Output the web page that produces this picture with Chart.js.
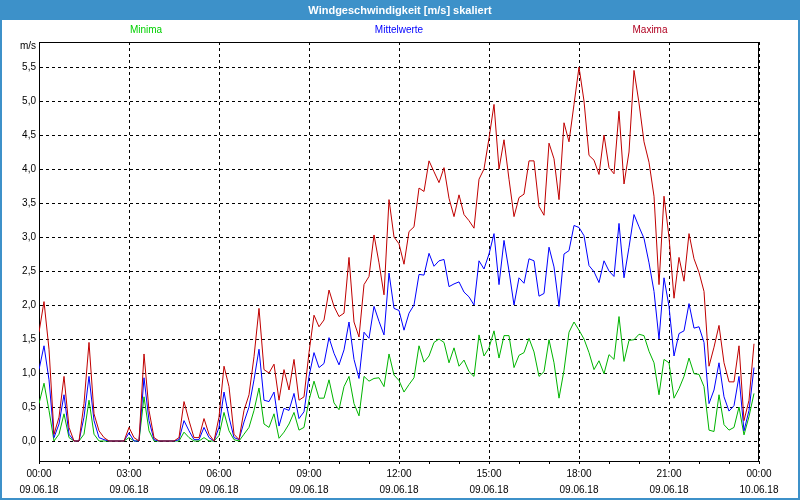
<!DOCTYPE html>
<html>
<head>
<title>Windgeschwindigkeit</title>
<script src="https://cdn.jsdelivr.net/npm/chart.js"></script>
<style>
body { margin: 0; background: #fff; }
</style>
</head>
<body>
<canvas id="chartDiv" width="800" height="500"></canvas>

<script>

var chartTitle = 'Windgeschwindigkeit [m/s] skaliert';
var yUnit = 'm/s';
var stepMinutes = 10;   // one value every 10 minutes, starting 00:00

var minima = [
  0.55, 0.85, 0.45, 0, 0.1, 0.4, 0.05, 0, 0, 0.1, 0.6, 0.1,
  0, 0, 0, 0, 0, 0, 0.05, 0, 0, 0.65, 0.15, 0,
  0, 0, 0, 0, 0, 0.13, 0.05, 0, 0, 0.05, 0, 0,
  0.08, 0.42, 0.15, 0.02, 0, 0.1, 0.2, 0.45, 0.78, 0.25, 0.2, 0.4,
  0.04, 0.13, 0.25, 0.42, 0.16, 0.2, 0.6, 0.88, 0.63, 0.63, 0.9, 0.56,
  0.46, 0.8, 0.95, 0.55, 0.37, 0.95, 0.88, 0.92, 0.93, 0.8, 1.28, 0.97,
  0.89, 0.72, 0.83, 0.93, 1.4, 1.16, 1.25, 1.45, 1.5, 1.45, 1.15, 1.37,
  1.1, 1.19, 1.02, 0.95, 1.56, 1.25, 1.37, 1.62, 1.22, 1.55, 1.55, 1.08,
  1.26, 1.3, 1.51, 1.31, 0.95, 1.02, 1.49, 1.15, 0.63, 1.04, 1.6, 1.75,
  1.63, 1.5, 1.3, 1.05, 1.18, 0.99, 1.27, 1.2, 1.83, 1.17, 1.48, 1.49,
  1.57, 1.55, 1.32, 1.15, 0.68, 1.2, 1.15, 0.63, 0.77, 0.95, 1.22, 0.99,
  0.98, 0.8, 0.16, 0.14, 0.68, 0.24, 0.16, 0.2, 0.5, 0.09, 0.36, 0.7
];

var mittelwerte = [
  1.05, 1.4, 0.9, 0.05, 0.25, 0.68, 0.1, 0, 0, 0.35, 0.95, 0.3,
  0.05, 0.02, 0, 0, 0, 0, 0.12, 0, 0, 0.93, 0.3, 0.02,
  0, 0, 0, 0, 0.02, 0.3, 0.15, 0.02, 0.02, 0.2, 0.05, 0,
  0.2, 0.72, 0.35, 0.05, 0.02, 0.28, 0.5, 0.9, 1.35, 0.6, 0.58, 0.72,
  0.22, 0.48, 0.45, 0.7, 0.33, 0.43, 0.95, 1.3, 1.08, 1.14, 1.52, 1.29,
  1.12, 1.34, 1.75, 1.2, 0.92, 1.6, 1.51, 1.98, 1.76, 1.56, 2.47, 1.95,
  1.92, 1.63, 1.88, 2.0, 2.45, 2.44, 2.76, 2.57, 2.65, 2.67, 2.27, 2.31,
  2.34, 2.19, 2.12, 2.0, 2.65, 2.53, 2.75, 3.05, 2.3, 2.95, 2.5, 2.0,
  2.4, 2.32, 2.68, 2.65, 2.13, 2.17, 2.85, 2.56, 1.98, 2.75, 2.8, 3.17,
  3.14, 3.02, 2.58, 2.49, 2.33, 2.65, 2.5, 2.42, 3.2, 2.4, 2.85, 3.33,
  3.15, 2.98, 2.62, 2.2, 1.5, 2.4, 1.98, 1.25, 1.58, 1.62, 2.02, 1.66,
  1.68, 1.45, 0.55, 0.75, 1.15, 0.65, 0.44, 0.52, 0.95, 0.15, 0.45, 1.08
];

var maxima = [
  1.6, 2.05, 1.35, 0.1, 0.35, 0.95, 0.2, 0, 0, 0.55, 1.45, 0.4,
  0.15, 0.05, 0, 0, 0, 0, 0.2, 0.05, 0, 1.28, 0.45, 0.05,
  0, 0, 0, 0, 0.05, 0.58, 0.3, 0.05, 0.05, 0.33, 0.1, 0,
  0.35, 1.1, 0.8, 0.1, 0.02, 0.45, 0.68, 1.24, 1.95, 1.05, 1.0, 1.13,
  0.6, 1.05, 0.75, 1.2, 0.6, 0.65, 1.3, 1.85, 1.68, 1.78, 2.22, 1.98,
  1.83, 1.88, 2.7, 1.75, 1.53, 2.3, 2.42, 3.03, 2.62, 2.15, 3.55, 3.0,
  2.9, 2.6, 3.08, 3.15, 3.72, 3.67, 4.12, 3.96, 3.8, 4.02, 3.57, 3.3,
  3.62, 3.33, 3.24, 3.13, 3.85, 4.0, 4.45, 4.95, 4.0, 4.43, 3.85, 3.3,
  3.58, 3.63, 4.12, 4.12, 3.45, 3.32, 4.38, 4.15, 3.55, 4.68, 4.4, 4.95,
  5.5, 5.0, 4.2, 4.13, 3.92, 4.5, 4.02, 3.93, 4.85, 3.78, 4.25, 5.45,
  4.97, 4.4, 4.1, 3.6, 2.3, 3.6, 3.0, 2.1, 2.7, 2.35, 3.05, 2.68,
  2.48, 2.2, 1.1, 1.38, 1.7, 1.15, 0.87, 0.87, 1.4, 0.3, 0.6, 1.43
];

var yTicks = [0, 0.5, 1, 1.5, 2, 2.5, 3, 3.5, 4, 4.5, 5, 5.5];
var xTickTimes = ['00:00', '03:00', '06:00', '09:00', '12:00', '15:00', '18:00', '21:00', '00:00'];
var xTickDates = ['09.06.18', '09.06.18', '09.06.18', '09.06.18', '09.06.18', '09.06.18', '09.06.18', '09.06.18', '10.06.18'];

var fontName = '"Liberation Sans", Arial, sans-serif';

function toPoints(values)
{
    return values.map(function (v, i) { return {x: i * stepMinutes / 60, y: v}; });
}

// title bar, window border, legend texts
var framePlugin = {
  id: 'frame',
  beforeDraw: function (chart) {
    var ctx = chart.ctx, w = chart.width, h = chart.height;
    ctx.save();
    ctx.fillStyle = '#fff';
    ctx.fillRect(0, 0, w, h);
    ctx.fillStyle = '#3d91c9';
    ctx.fillRect(0, 0, w, 20);
    ctx.strokeStyle = '#3d91c9';
    ctx.lineWidth = 2;
    ctx.strokeRect(1, 1, w - 2, h - 2);

    ctx.textAlign = 'center';
    ctx.textBaseline = 'middle';
    ctx.fillStyle = '#fff';
    ctx.font = 'bold 11px ' + fontName;
    ctx.fillText(chartTitle, w / 2, 11);

    ctx.font = '10px ' + fontName;
    var legendX = {Minima: 146, Mittelwerte: 399, Maxima: 650};
    chart.data.datasets.forEach(function (ds) {
      ctx.fillStyle = ds.legendColor;
      ctx.fillText(ds.label, legendX[ds.label], 30);
    });
    ctx.restore();
  },
  afterDraw: function (chart) {
    var ctx = chart.ctx, a = chart.chartArea;
    ctx.save();
    ctx.strokeStyle = '#000';
    ctx.lineWidth = 1;
    ctx.beginPath();
    ctx.moveTo(Math.round(a.left), Math.round(a.top) + 0.5);
    ctx.lineTo(Math.round(a.right), Math.round(a.top) + 0.5);
    ctx.moveTo(Math.round(a.right) - 0.5, Math.round(a.top));
    ctx.lineTo(Math.round(a.right) - 0.5, Math.round(a.bottom));
    ctx.stroke();
    ctx.fillStyle = '#000';
    ctx.font = '10px ' + fontName;
    ctx.textAlign = 'right';
    ctx.textBaseline = 'middle';
    ctx.fillText(yUnit, 36, 46);
    ctx.restore();
  }
};

new Chart("chartDiv", {
  type: "line",
  data: {
    datasets: [{
      label: 'Minima',
      data: toPoints(minima),
      borderColor: '#00b400',
      legendColor: '#00d000',
      order: 3
    }, {
      label: 'Mittelwerte',
      data: toPoints(mittelwerte),
      borderColor: '#0000ff',
      legendColor: '#0000ff',
      order: 2
    }, {
      label: 'Maxima',
      data: toPoints(maxima),
      borderColor: '#c00000',
      legendColor: '#b00020',
      order: 1
    }]
  },
  options: {
    responsive: false,
    animation: false,
    devicePixelRatio: 1,
    layout: {padding: {top: 42, right: 41, left: 0, bottom: 0}},
    elements: {
      line: {borderWidth: 1, tension: 0, fill: false},
      point: {radius: 0}
    },
    plugins: {
      legend: {display: false},
      tooltip: {enabled: false}
    },
    scales: {
      x: {
        type: 'linear',
        min: 0,
        max: 24,
        afterBuildTicks: function (scale) {
          var t = [];
          for (var h = 0; h <= 24; h++) t.push({value: h});
          scale.ticks = t;
        },
        afterFit: function (scale) { scale.height = 39; },
        ticks: {
          autoSkip: false,
          maxRotation: 0,
          padding: 2,
          color: '#000',
          font: {family: fontName, size: 10, lineHeight: '16px'},
          callback: function (value) {
            if (value % 3 !== 0) return '';
            return [xTickTimes[value / 3], xTickDates[value / 3]];
          }
        },
        grid: {
          color: function (c) { return (c.tick && c.tick.value % 3 === 0) ? '#000' : 'rgba(0,0,0,0)'; },
          tickColor: '#000',
          tickLength: 3,
          lineWidth: 1
        },
        border: {display: true, color: '#000', width: 1, dash: [3, 3]}
      },
      y: {
        min: -0.294,
        max: 5.868,
        afterBuildTicks: function (scale) {
          scale.ticks = yTicks.map(function (v) { return {value: v}; });
        },
        afterFit: function (scale) { scale.width = 39; },
        ticks: {
          padding: 3,
          color: '#000',
          font: {family: fontName, size: 10},
          callback: function (value) { return value.toFixed(1).replace('.', ','); }
        },
        grid: {
          color: '#000',
          drawTicks: false,
          lineWidth: 1
        },
        border: {display: true, color: '#000', width: 1, dash: [3, 3]}
      }
    }
  },
  plugins: [framePlugin]
});

</script>
</body>
</html>
